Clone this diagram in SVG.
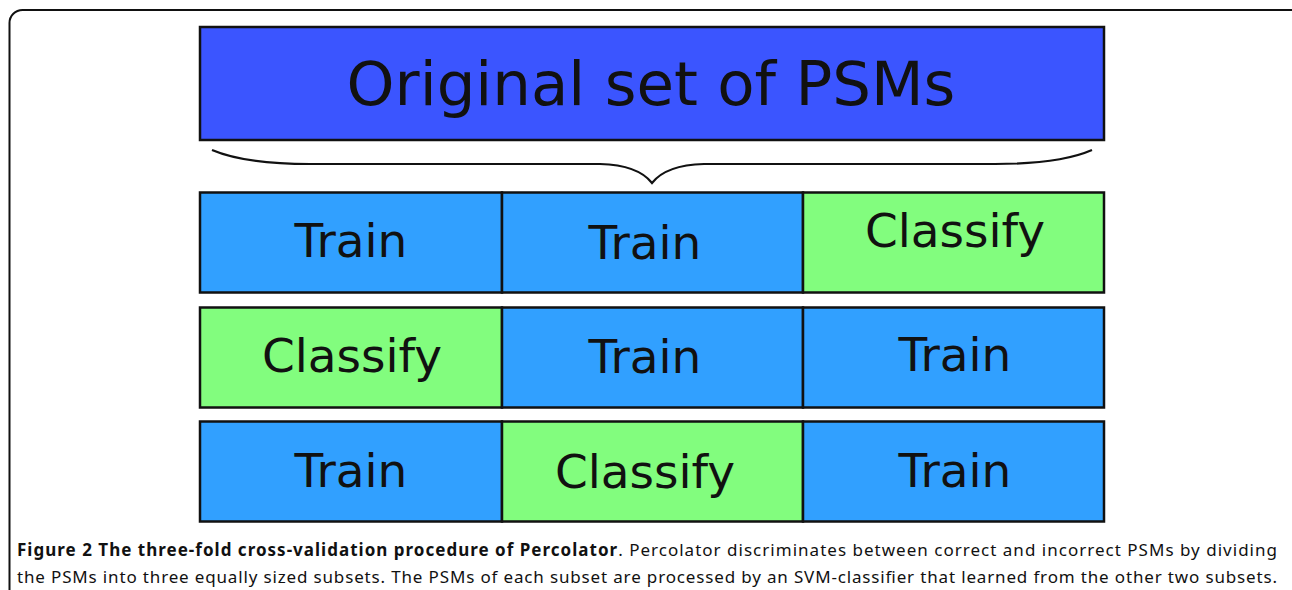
<svg xmlns="http://www.w3.org/2000/svg" width="1292" height="590" viewBox="0 0 1292 590">
<style>
.cell{stroke:#111;stroke-width:2.5}
.blue{fill:#31a0ff}
.green{fill:#82fd7e}
.lbl{font-family:"DejaVu Sans",sans-serif;font-size:47px;fill:#111;text-anchor:middle}
.cap{font-family:"Noto Sans","Open Sans",sans-serif;font-size:17px;fill:#111}
</style>
<rect x="0" y="0" width="1292" height="590" fill="#fff"/>
<rect x="9.5" y="10" width="1300" height="620" rx="13" ry="13" fill="none" stroke="#111" stroke-width="2"/>
<g id="original">
<rect x="200" y="27" width="904" height="113" fill="#3b55ff" stroke="#111" stroke-width="2.5"/>
<text x="651" y="105" font-family="DejaVu Sans, sans-serif" font-size="61" fill="#111" text-anchor="middle">Original set of PSMs</text>
</g>
<g id="connectors">
<path d="M212,150 Q245,164 310,164 L600,164 Q638,165 652,183 Q666,165 704,164 L995,164 Q1060,164 1092,150" fill="none" stroke="#111" stroke-width="2.2"/>
</g>
<g id="row1">
<rect class="cell blue" x="200" y="192.5" width="302" height="100"/>
<rect class="cell blue" x="502" y="192.5" width="301" height="100"/>
<rect class="cell green" x="803" y="192.5" width="301" height="100"/>
<text class="lbl" x="351" y="257">Train</text>
<text class="lbl" x="645" y="259">Train</text>
<text class="lbl" x="955" y="247">Classify</text>
</g>
<g id="row2">
<rect class="cell green" x="200" y="307.5" width="302" height="100"/>
<rect class="cell blue" x="502" y="307.5" width="301" height="100"/>
<rect class="cell blue" x="803" y="307.5" width="301" height="100"/>
<text class="lbl" x="352" y="372">Classify</text>
<text class="lbl" x="645" y="373">Train</text>
<text class="lbl" x="955" y="371">Train</text>
</g>
<g id="row3">
<rect class="cell blue" x="200" y="421.5" width="302" height="100"/>
<rect class="cell green" x="502" y="421.5" width="301" height="100"/>
<rect class="cell blue" x="803" y="421.5" width="301" height="100"/>
<text class="lbl" x="351" y="487">Train</text>
<text class="lbl" x="645" y="488">Classify</text>
<text class="lbl" x="955" y="487">Train</text>
</g>
<g id="caption">
<text class="cap" x="17" y="556" textLength="1260" lengthAdjust="spacing"><tspan font-weight="bold">Figure 2 The three-fold cross-validation procedure of Percolator</tspan>. Percolator discriminates between correct and incorrect PSMs by dividing</text>
<text class="cap" x="17" y="583" textLength="1260" lengthAdjust="spacing">the PSMs into three equally sized subsets. The PSMs of each subset are processed by an SVM-classifier that learned from the other two subsets.</text>
</g>
</svg>
